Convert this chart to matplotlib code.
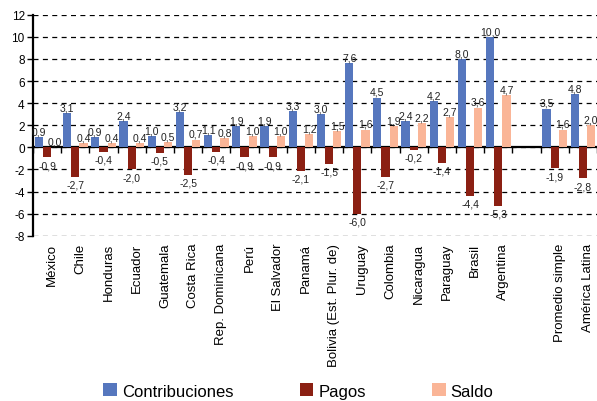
import numpy as np
import matplotlib
matplotlib.use("Agg")
import matplotlib.pyplot as plt
import matplotlib.transforms as mtransforms

plt.rcParams["font.family"] = ["Liberation Sans", "DejaVu Sans"]
plt.rcParams["axes.unicode_minus"] = False

countries = ["México", "Chile", "Honduras", "Ecuador", "Guatemala", "Costa Rica",
             "Rep. Dominicana", "Perú", "El Salvador", "Panamá", "Bolivia (Est. Plur. de)",
             "Uruguay", "Colombia", "Nicaragua", "Paraguay", "Brasil", "Argentina"]
summary = ["Promedio simple", "América Latina"]

contribuciones = [0.9, 3.1, 0.9, 2.4, 1.0, 3.2, 1.1, 1.9, 1.9, 3.3, 3.0, 7.6, 4.5, 2.4, 4.2, 8.0, 10.0,
                  3.5, 4.8]
pagos = [-0.9, -2.7, -0.4, -2.0, -0.5, -2.5, -0.4, -0.9, -0.9, -2.1, -1.5, -6.0, -2.7, -0.2, -1.4, -4.4, -5.3,
         -1.9, -2.8]
saldo = [0.0, 0.4, 0.4, 0.4, 0.5, 0.7, 0.8, 1.0, 1.0, 1.2, 1.5, 1.6, 1.9, 2.2, 2.7, 3.6, 4.7,
         1.6, 2.0]

series_names = ["Contribuciones", "Pagos", "Saldo"]
colors = ["#5677BE", "#8B2013", "#FAB597"]

labels = countries + summary
# leave one empty slot between the countries and the summary columns
x = np.concatenate([np.arange(len(countries)), len(countries) + 1 + np.arange(len(summary))])
n_slots = len(countries) + 1 + len(summary)

fig = plt.figure(figsize=(5.97, 4.02), dpi=100)
ax = fig.add_axes([0.0553, 0.411, 0.9447, 0.55])

width = 0.29
offsets = [-width, 0, width]
ymin, ymax = -8, 12

for i, (name, vals) in enumerate(zip(series_names, [contribuciones, pagos, saldo])):
    pos = x + offsets[i]
    ax.bar(pos, vals, width, color=colors[i], label=name, zorder=3)
    for px, v in zip(pos, vals):
        txt = f"{v:.1f}".replace(".", ",")
        if v >= 0:
            ax.annotate(txt, (px, v), xytext=(0, 0.5), textcoords="offset points",
                        ha="center", va="bottom", fontsize=7.5, color="#222222", zorder=4)
        else:
            ax.annotate(txt, (px, v), xytext=(0, -2), textcoords="offset points",
                        ha="center", va="top", fontsize=7.5, color="#222222", zorder=4)

ax.set_xlim(-0.5, n_slots - 0.5)
ax.set_ylim(ymin, ymax)
ax.set_yticks(np.arange(ymin, ymax + 1, 2))
ax.yaxis.grid(True, color="black", linestyle=(0, (4, 3.5)), linewidth=0.9, zorder=0)
ax.tick_params(axis="y", labelsize=8.5, length=4, width=1, direction="out", pad=2)

for s in ["top", "right", "bottom"]:
    ax.spines[s].set_visible(False)
ax.spines["left"].set_linewidth(1.6)

ax.set_xticks(x)
ax.set_xticklabels(labels, rotation=90, fontsize=9.5)
ax.tick_params(axis="x", length=0, pad=5)
shift = mtransforms.ScaledTranslation(0.05, 0, fig.dpi_scale_trans)
for t in ax.get_xticklabels():
    t.set_transform(t.get_transform() + shift)

# zero line with separator ticks
zero_pos = (0 - ymin) / (ymax - ymin)
sec = ax.secondary_xaxis(zero_pos)
sec.set_xticks(np.arange(-0.5, n_slots, 1.0))
sec.set_xticklabels([])
sec.tick_params(length=4, width=1, direction="out", color="black")
sec.spines["bottom"].set_linewidth(1.6)
sec.spines["bottom"].set_zorder(5)

fig.legend(loc="center", bbox_to_anchor=(0.5, 0.025), ncol=3, frameon=False, fontsize=12,
           handlelength=0.8, handleheight=0.8, handletextpad=0.3, columnspacing=4.0)

fig.savefig("out.png", dpi=100)
plt.close(fig)
